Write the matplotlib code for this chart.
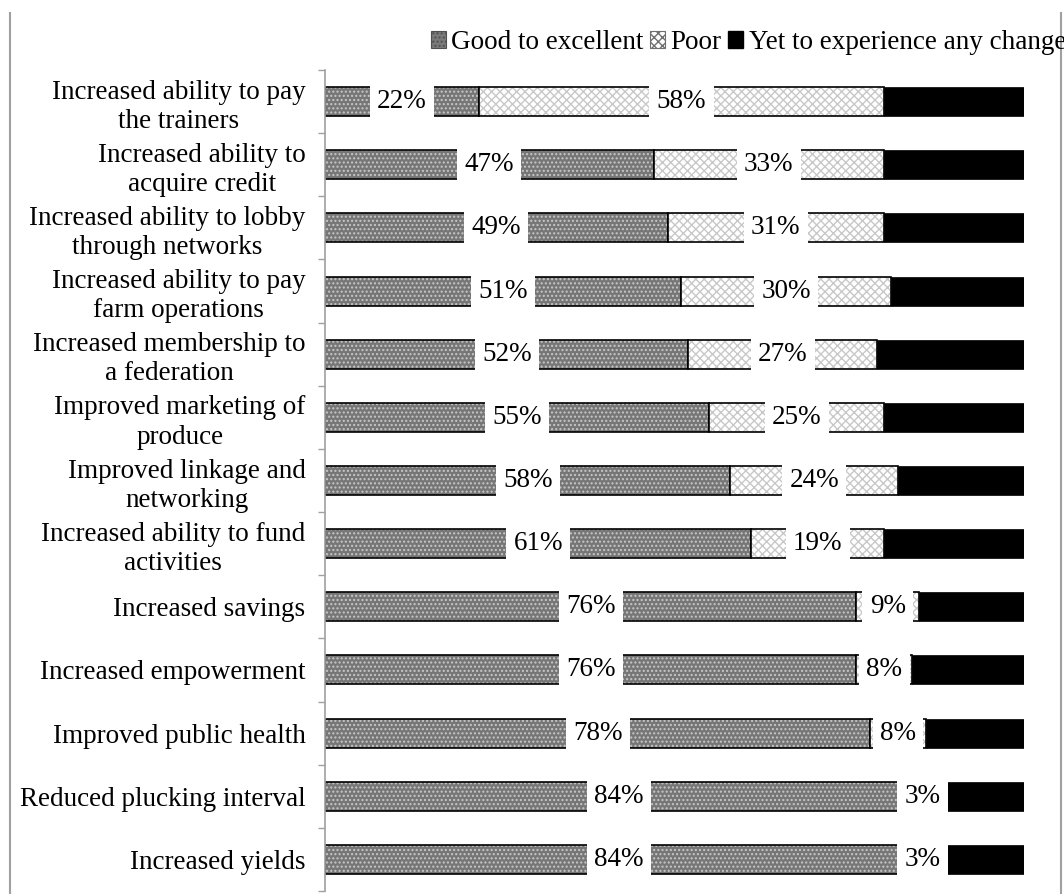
import matplotlib
matplotlib.use("Agg")
import matplotlib.pyplot as plt
import numpy as np
from matplotlib.patches import Patch
from matplotlib.lines import Line2D

categories = [
    "Increased ability to pay\nthe trainers",
    "Increased ability to\nacquire credit",
    "Increased ability to lobby\nthrough networks",
    "Increased ability to pay\nfarm operations",
    "Increased membership to\na federation",
    "Improved marketing of\nproduce",
    "Improved linkage and\nnetworking",
    "Increased ability to fund\nactivities",
    "Increased savings",
    "Increased empowerment",
    "Improved public health",
    "Reduced plucking interval",
    "Increased yields",
]
good = [22, 47, 49, 51, 52, 55, 58, 61, 76, 76, 78, 84, 84]
poor = [58, 33, 31, 30, 27, 25, 24, 19, 9, 8, 8, 3, 3]
yet = [20, 20, 20, 19, 21, 20, 18, 20, 15, 16, 14, 13, 13]
series_names = ["Good to excellent", "Poor", "Yet to experience any change"]

plt.rcParams['font.family'] = ['Liberation Serif', 'DejaVu Serif']
plt.rcParams['hatch.linewidth'] = 1.0
FS = 19.5

fig = plt.figure(figsize=(10.64, 8.94), dpi=100)
ax = fig.add_axes([325/1064, 3/894, (1024-325)/1064, (891-70)/894])

y = np.arange(len(categories))
h = 0.46
good_a = np.array(good, float)
poor_a = np.array(poor, float)
yet_a = np.array(yet, float)

# Good to excellent: gray with light dot hatching and black outline
ax.barh(y, good_a, height=h, color='#767676', hatch='....', edgecolor='#c8c8c8', linewidth=0)
ax.barh(y, good_a, height=h, fill=False, edgecolor='black', linewidth=1.2)
# Poor: white with light crosshatch
ax.barh(y, poor_a, left=good_a, height=h, color='white', hatch='xxxx', edgecolor='#c8c8c8', linewidth=0)
ax.barh(y, poor_a, left=good_a, height=h, fill=False, edgecolor='black', linewidth=1.2)
# Yet to experience any change: solid black
ax.barh(y, yet_a, left=good_a + poor_a, height=h, color='black', edgecolor='black', linewidth=0.5)

bbox = dict(boxstyle='square,pad=0.27', facecolor='white', edgecolor='none')
for i in range(len(categories)):
    ax.text(good_a[i] / 2, y[i], f"{good[i]}%", ha='center', va='center', fontsize=FS, bbox=bbox, zorder=5)
    ax.text(good_a[i] + poor_a[i] / 2, y[i], f"{poor[i]}%", ha='center', va='center', fontsize=FS, bbox=bbox, zorder=5)

ax.set_xlim(0, 100)
ax.set_ylim(len(categories) - 0.5, -0.5)
ax.set_yticks(y)
ax.set_yticklabels(categories, fontsize=FS)
for lab in ax.get_yticklabels():
    lab.set_multialignment('center')
    lab.set_linespacing(1.22)
ax.set_yticks(np.arange(-0.5, len(categories), 1.0), minor=True)
ax.tick_params(axis='y', which='major', length=0, pad=14)
ax.tick_params(axis='y', which='minor', length=5, color='#a0a0a0', width=1)
ax.set_xticks([])
for s in ['top', 'right', 'bottom']:
    ax.spines[s].set_visible(False)
ax.spines['left'].set_color('#a0a0a0')
ax.spines['left'].set_linewidth(1.2)

handles = [
    Patch(facecolor='#7a7a7a', hatch='....', edgecolor='#505050', linewidth=0.8),
    Patch(facecolor='white', hatch='xxxx', edgecolor='#707070', linewidth=0.8),
    Patch(facecolor='black', edgecolor='black'),
]
fig.legend(handles, series_names, loc='upper right', bbox_to_anchor=(1066/1064, 1 - 30/894),
           ncol=3, frameon=False, fontsize=FS, handlelength=0.55, handleheight=0.55,
           handletextpad=0.2, columnspacing=0.25, borderpad=0, borderaxespad=0)

# outer frame lines
fig.add_artist(Line2D([10/1064, 10/1064], [0, 1 - 13/894], transform=fig.transFigure, color='#a0a0a0', linewidth=1.5))
fig.add_artist(Line2D([1061/1064, 1061/1064], [0, 1 - 13/894], transform=fig.transFigure, color='#a0a0a0', linewidth=1.5))

fig.savefig('out.png', dpi=100)
